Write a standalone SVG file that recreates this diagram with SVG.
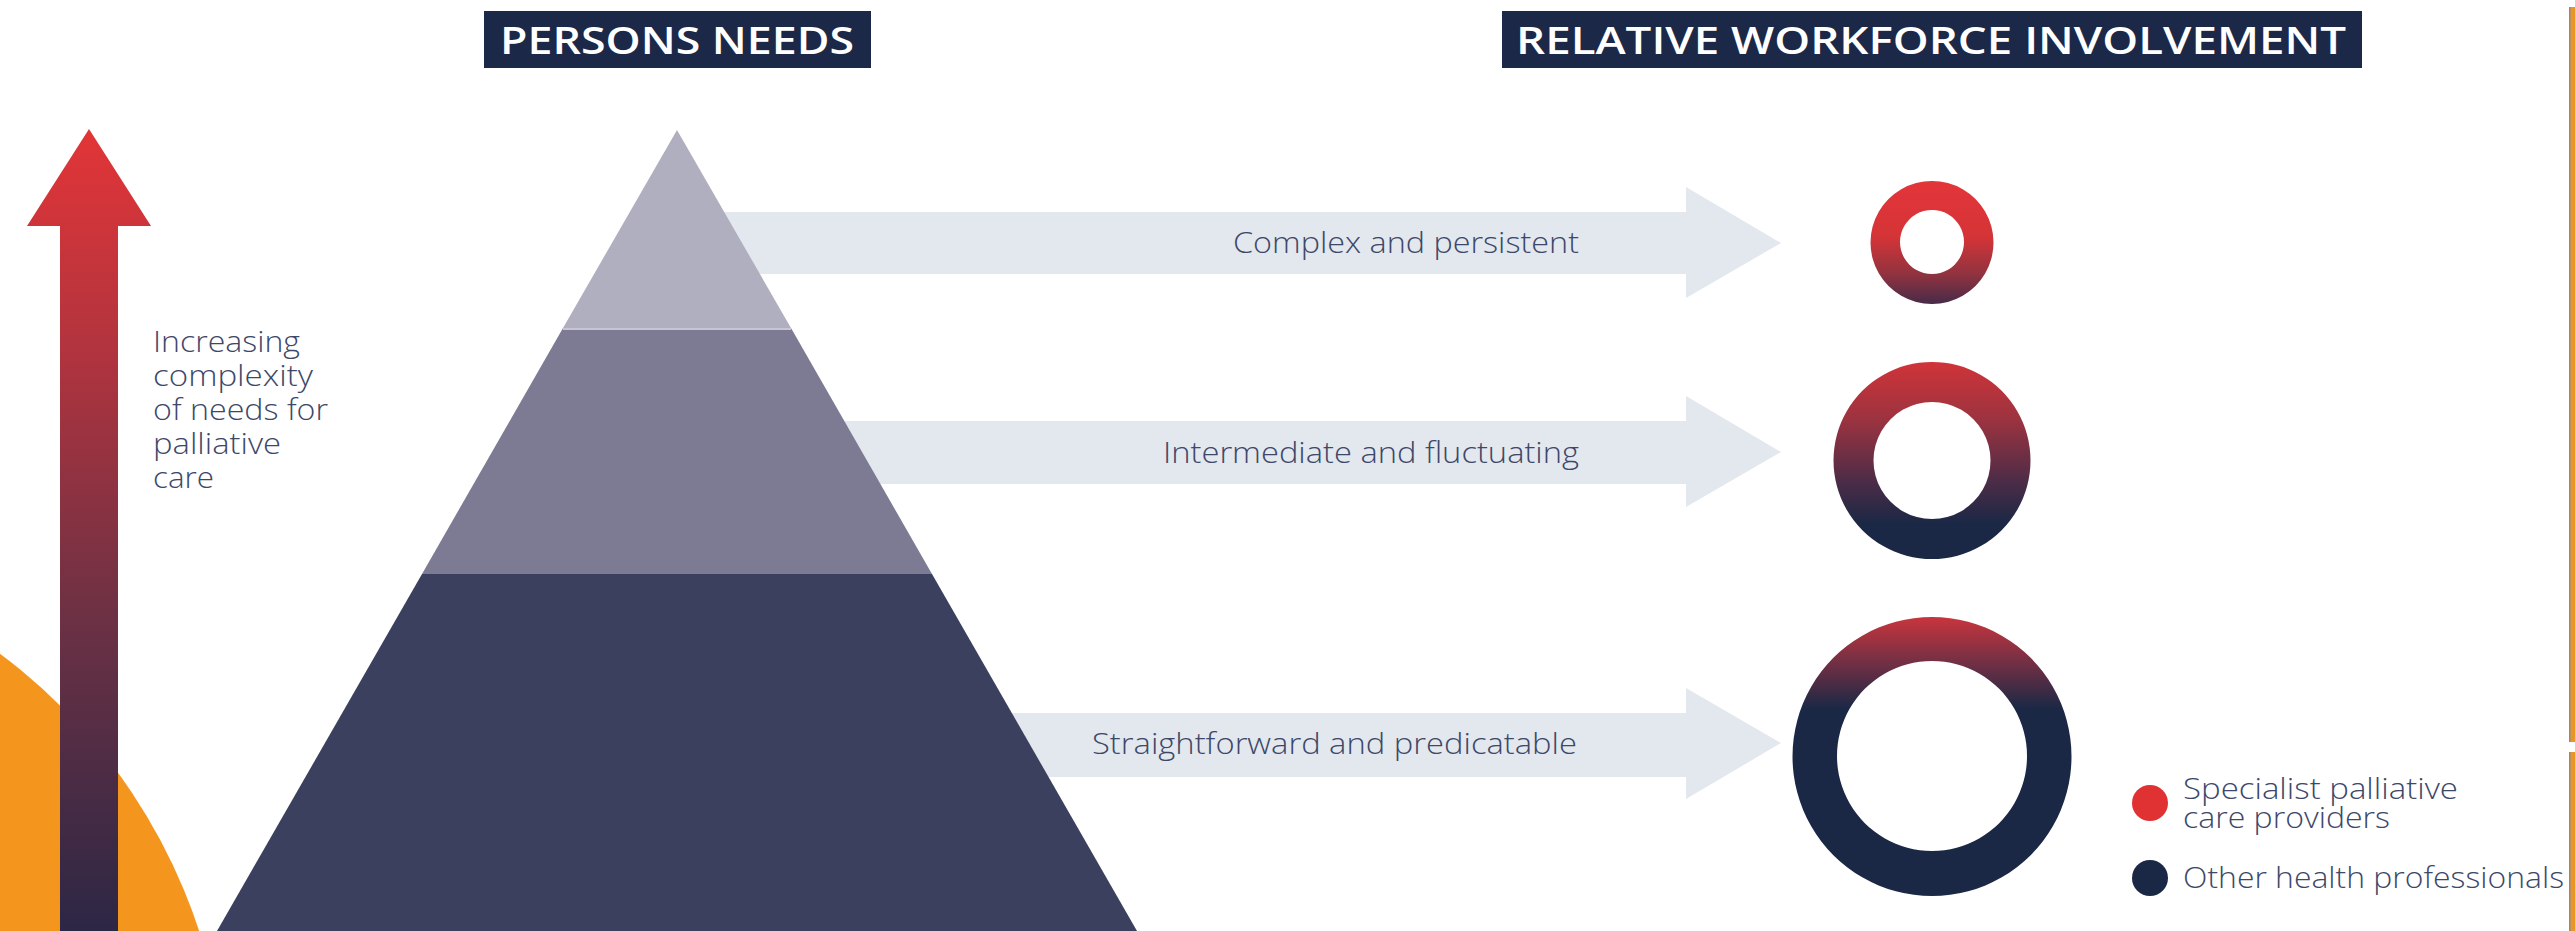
<svg xmlns="http://www.w3.org/2000/svg" width="2575" height="931" viewBox="0 0 2575 931">
  <defs>
    <linearGradient id="gUp" x1="0" y1="129" x2="0" y2="931" gradientUnits="userSpaceOnUse">
      <stop offset="0" stop-color="#e23537"/>
      <stop offset="0.25" stop-color="#b6343e"/>
      <stop offset="0.6" stop-color="#6e3144"/>
      <stop offset="1" stop-color="#2c2745"/>
    </linearGradient>
    <linearGradient id="gSmall" x1="0" y1="0" x2="0" y2="1">
      <stop offset="0" stop-color="#e3353a"/>
      <stop offset="0.45" stop-color="#d53437"/>
      <stop offset="0.75" stop-color="#93333f"/>
      <stop offset="1" stop-color="#472b48"/>
    </linearGradient>
    <linearGradient id="gMed" x1="0" y1="0" x2="0" y2="1">
      <stop offset="0" stop-color="#d13339"/>
      <stop offset="0.3" stop-color="#9a3340"/>
      <stop offset="0.6" stop-color="#4e2c47"/>
      <stop offset="0.82" stop-color="#1a2845"/>
      <stop offset="1" stop-color="#1a2845"/>
    </linearGradient>
    <linearGradient id="gLarge" x1="0" y1="0" x2="0" y2="1">
      <stop offset="0" stop-color="#c8353d"/>
      <stop offset="0.15" stop-color="#7a3044"/>
      <stop offset="0.33" stop-color="#1a2845"/>
      <stop offset="1" stop-color="#1a2845"/>
    </linearGradient>
    <style>
      .hdr { fill: #1b2848; }
      .hdrt { fill: #ffffff; font-family: "Open Sans", "Liberation Sans", sans-serif; font-weight: 600; font-size: 37px; text-anchor: middle; }
      .lbl { fill: #3d4869; font-family: "Open Sans", "Liberation Sans", sans-serif; font-weight: 300; font-size: 29px; }
      .band { fill: #e3e7ee; }
    </style>
  </defs>

  <rect width="2575" height="931" fill="#ffffff"/>

  <!-- orange decorative circle bottom-left -->
  <circle cx="-337" cy="1106" r="564" fill="#f4961e"/>

  <!-- right edge page strip -->
  <g id="edge">
    <rect x="2569" y="7" width="6" height="735" fill="#e8952a"/>
    <rect x="2569" y="7" width="1.5" height="735" fill="#8f8a86"/>
    <rect x="2569" y="752" width="6" height="179" fill="#e8952a"/>
    <rect x="2569" y="752" width="1.5" height="179" fill="#8f8a86"/>
  </g>

  <!-- headers -->
  <g id="header-persons-needs">
    <rect class="hdr" x="484" y="11" width="387" height="57"/>
    <text class="hdrt" x="677" y="54" textLength="354" lengthAdjust="spacingAndGlyphs">PERSONS NEEDS</text>
  </g>
  <g id="header-workforce">
    <rect class="hdr" x="1502" y="11" width="860" height="57"/>
    <text class="hdrt" x="1931" y="54" textLength="830" lengthAdjust="spacingAndGlyphs">RELATIVE WORKFORCE INVOLVEMENT</text>
  </g>

  <!-- complexity arrow -->
  <g id="complexity-arrow">
    <polygon points="89,129 151,226 118,226 118,931 60,931 60,226 27,226" fill="url(#gUp)"/>
    <text class="lbl" font-size="28">
      <tspan x="153" y="352" textLength="147" lengthAdjust="spacingAndGlyphs">Increasing</tspan>
      <tspan x="153" y="386" textLength="160" lengthAdjust="spacingAndGlyphs">complexity</tspan>
      <tspan x="153" y="420" textLength="175" lengthAdjust="spacingAndGlyphs">of needs for</tspan>
      <tspan x="153" y="454" textLength="128" lengthAdjust="spacingAndGlyphs">palliative</tspan>
      <tspan x="153" y="488" textLength="61" lengthAdjust="spacingAndGlyphs">care</tspan>
    </text>
  </g>

  <!-- connectors: band arrows -->
  <g id="connectors">
    <polygon class="band" points="700,212 1686,212 1686,187 1781,243 1686,298 1686,274 700,274"/>
    <polygon class="band" points="700,421 1686,421 1686,396 1781,452 1686,507 1686,484 700,484"/>
    <polygon class="band" points="700,713 1686,713 1686,688 1781,743 1686,799 1686,777 700,777"/>
  </g>

  <!-- pyramid -->
  <g id="pyramid">
    <polygon id="tier-top" points="677,130 791,328 563,328" fill="#b0afbf"/>
    <polygon id="tier-mid" points="563,328 791,328 932,574 422,574" fill="#7c7b93"/>
    <polygon id="tier-bottom" points="422,574 932,574 1137,931 217,931" fill="#3b405e"/>
    <line x1="563" y1="329" x2="791" y2="329" stroke="#c6c5d1" stroke-width="2"/>
  </g>

  <!-- band labels -->
  <g id="label-complex">
    <text class="lbl" x="1233" y="253" textLength="346" lengthAdjust="spacingAndGlyphs">Complex and persistent</text>
  </g>
  <g id="label-intermediate">
    <text class="lbl" x="1163" y="463" textLength="416" lengthAdjust="spacingAndGlyphs">Intermediate and fluctuating</text>
  </g>
  <g id="label-straightforward">
    <text class="lbl" x="1092" y="754" textLength="485" lengthAdjust="spacingAndGlyphs">Straightforward and predicatable</text>
  </g>

  <!-- rings -->
  <g id="ring-small">
    <path fill-rule="evenodd" fill="url(#gSmall)" d="M1932,181 a61.5,61.5 0 1,0 0.01,0 Z M1932,210 a32,32 0 1,0 0.01,0 Z"/>
  </g>
  <g id="ring-medium">
    <path fill-rule="evenodd" fill="url(#gMed)" d="M1932,362 a98.5,98.5 0 1,0 0.01,0 Z M1932,402 a58.5,58.5 0 1,0 0.01,0 Z"/>
  </g>
  <g id="ring-large">
    <path fill-rule="evenodd" fill="url(#gLarge)" d="M1932,617 a139.5,139.5 0 1,0 0.01,0 Z M1932,661 a95,95 0 1,0 0.01,0 Z"/>
  </g>

  <!-- legend -->
  <g id="legend-specialist">
    <circle cx="2150" cy="803" r="18" fill="#e03232"/>
    <text class="lbl" font-size="29">
      <tspan x="2183" y="799" textLength="275" lengthAdjust="spacingAndGlyphs">Specialist palliative</tspan>
      <tspan x="2183" y="828" textLength="207" lengthAdjust="spacingAndGlyphs">care providers</tspan>
    </text>
  </g>
  <g id="legend-other">
    <circle cx="2150" cy="878" r="18" fill="#1a2845"/>
    <text class="lbl" x="2183" y="888" font-size="29" textLength="381" lengthAdjust="spacingAndGlyphs">Other health professionals</text>
  </g>
</svg>
